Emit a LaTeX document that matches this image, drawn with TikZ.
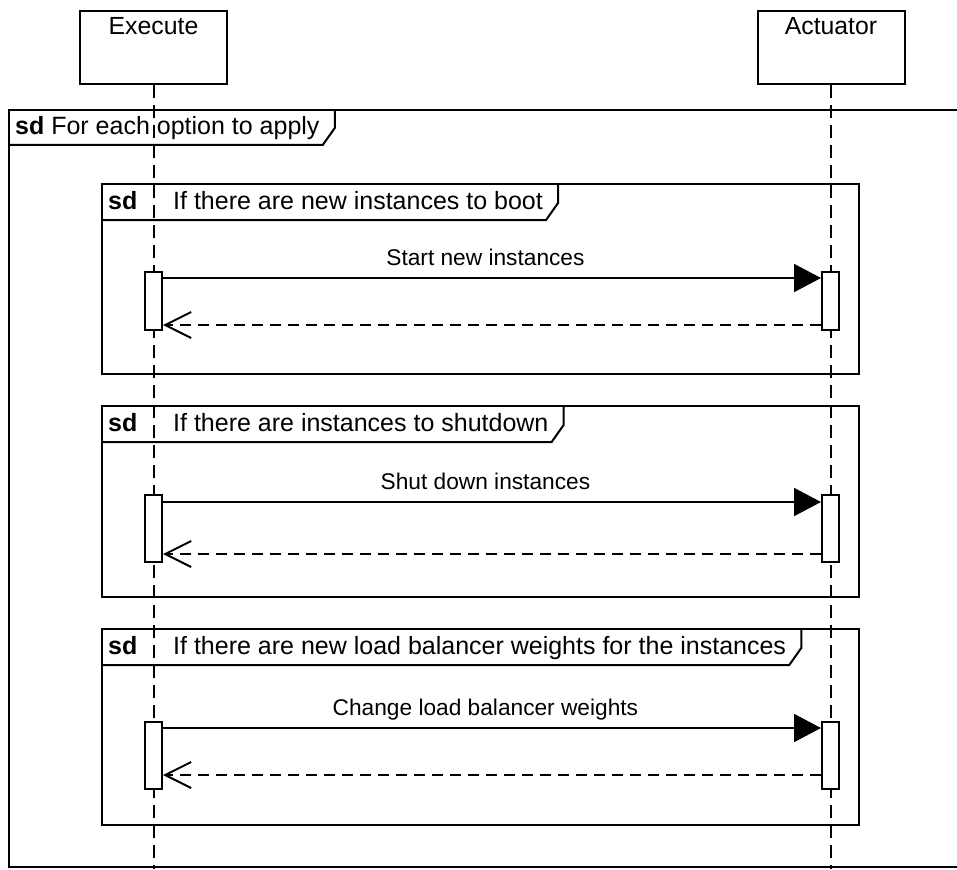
\documentclass[tikz,border=0pt]{standalone}
\usepackage{fontspec}
\setmainfont{Liberation Sans}
\usetikzlibrary{arrows.meta,calc}
\begin{document}
\begin{tikzpicture}[x=1pt,y=-1pt,
  framebox/.style={draw=black, line width=2pt},
  participant/.style={draw=black, line width=2pt, minimum width=147pt,
    inner sep=0pt, text height=24pt, text depth=49pt,
    font=\fontsize{24.8}{28}\selectfont, anchor=north},
  lifeline/.style={line width=2pt, dash pattern=on 13pt off 7pt},
  actbox/.style={draw=black, fill=white, line width=2pt, minimum width=17pt,
    inner sep=0pt, anchor=north},
  call/.style={line width=2pt, -{Triangle[length=27pt,width=28pt]}},
  reply/.style={line width=2pt, dash pattern=on 11pt off 7pt,
    -{Straight Barb[length=26pt,width=26pt,line width=2pt]}},
  titletext/.style={font=\fontsize{25}{28}\selectfont, inner sep=0pt, anchor=base west},
  msgtext/.style={font=\fontsize{22.7}{26}\selectfont, inner sep=0pt, anchor=base},
]
\useasboundingbox (0,0) rectangle (957,869);

% participants and lifelines
\node[participant] (exe) at (153.5,10) {Execute};
\node[participant] (act) at (831,10) {Actuator};
\coordinate (exeend) at (153.5,869);
\coordinate (actend) at (831,869);
\draw[lifeline] (exe.south) -- (exeend);
\draw[lifeline] (act.south) -- (actend);

% outer loop frame
\coordinate (ftr) at (975,110);
\coordinate (ftl) at (9,110);
\coordinate (fbl) at (9,867);
\coordinate (fbr) at (975,867);
\draw[framebox] (ftr) -- (ftl) -- (fbl) -- (fbr);
\node[titletext] (ft) at (15,135) {\textbf{sd} For each option to apply};
\draw[framebox] ($(ftl)+(0,35)$) -- ($(ft.east |- ftl)+(3,35)$)
  -- ($(ft.east |- ftl)+(15,18)$) -- ($(ft.east |- ftl)+(15,0)$);

% inner frames: corners, titles and tabs
\foreach \i/\top/\bot/\txt in {
  1/184/374/If there are new instances to boot,
  2/406/597/If there are instances to shutdown,
  3/629/825/If there are new load balancer weights for the instances}{
  \coordinate (f\i nw) at (102,\top);
  \coordinate (f\i se) at (859,\bot);
  \draw[framebox] (f\i nw) rectangle (f\i se);
  \node[titletext] (f\i sd) at ($(f\i nw)+(6,25)$) {\textbf{sd}};
  \node[titletext] (f\i t) at ($(f\i nw)+(71,25)$) {\txt};
  \draw[framebox] ($(f\i nw)+(0,36)$) -- ($(f\i t.east |- f\i nw)+(3,36)$)
    -- ($(f\i t.east |- f\i nw)+(15,19)$) -- ($(f\i t.east |- f\i nw)+(15,0)$);
}

% activation bars
\node[actbox, minimum height=58pt] (e1) at (153.5,271) {};
\node[actbox, minimum height=58pt] (a1) at (830.5,271) {};
\node[actbox, minimum height=67pt] (e2) at (153.5,494) {};
\node[actbox, minimum height=67pt] (a2) at (830.5,494) {};
\node[actbox, minimum height=67pt] (e3) at (153.5,721) {};
\node[actbox, minimum height=67pt] (a3) at (830.5,721) {};

% messages
\draw[call] ($(e1.north east)+(0,7)$) -- ($(a1.north west)+(0,7)$)
  node[msgtext, pos=0.49, yshift=13pt] (m1) {Start new instances};
\draw[reply] ($(a1.south west)+(0,-6)$) -- ($(e1.south east)+(0,-6)$);

\draw[call] ($(e2.north east)+(0,8)$) -- ($(a2.north west)+(0,8)$)
  node[msgtext, pos=0.49, yshift=13pt] (m2) {Shut down instances};
\draw[reply] ($(a2.south west)+(0,-9)$) -- ($(e2.south east)+(0,-9)$);

\draw[call] ($(e3.north east)+(0,7)$) -- ($(a3.north west)+(0,7)$)
  node[msgtext, pos=0.49, yshift=13pt] (m3) {Change load balancer weights};
\draw[reply] ($(a3.south west)+(0,-15)$) -- ($(e3.south east)+(0,-15)$);
\end{tikzpicture}
\end{document}
